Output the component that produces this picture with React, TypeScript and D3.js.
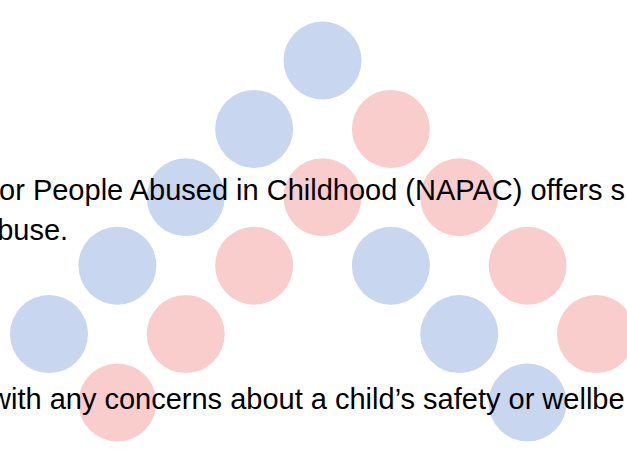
import React, { useEffect, useRef } from 'react';
import * as d3 from 'd3';

// grid cells of the dot triangle (row, column, colour)
const dotRows = [0, 1, 1, 2, 2, 2, 3, 3, 3, 3, 4, 4, 4, 4, 5, 5];
const dotCols = [4, 3, 5, 2, 4, 6, 1, 3, 5, 7, 0, 2, 6, 8, 1, 7];
const dotKinds = ['blue', 'blue', 'pink', 'blue', 'pink', 'pink', 'blue', 'pink', 'blue', 'pink', 'blue', 'pink', 'blue', 'pink', 'pink', 'blue'];

// text lines, cut off at both sides of the picture
const textLines = [
  'for People Abused in Childhood (NAPAC) offers s',
  'abuse.',
  'with any concerns about a child\u2019s safety or wellbe',
];
const textOffsets = [-9, -19, -10];
const textBaselines = [200, 240, 409];

const WIDTH = 627;
const HEIGHT = 450;

export default function App() {
  const svgRef = useRef<SVGSVGElement>(null);

  useEffect(() => {
    if (!svgRef.current) return;

    const svg = d3.select(svgRef.current);
    svg.selectAll('*').remove();

    svg.append('rect')
      .attr('width', WIDTH)
      .attr('height', HEIGHT)
      .attr('fill', '#ffffff');

    const x = d3.scaleLinear().domain([0, 8]).range([49, 596]);
    const y = d3.scaleLinear().domain([0, 5]).range([60.5, 402.5]);
    const colour = d3.scaleOrdinal<string, string>()
      .domain(['blue', 'pink'])
      .range(['#c8d6f0', '#facdcd']);

    const dots = dotRows.map((r, i) => ({ r, c: dotCols[i], kind: dotKinds[i] }));

    svg.append('g')
      .selectAll('circle')
      .data(dots)
      .join('circle')
      .attr('cx', d => x(d.c))
      .attr('cy', d => y(d.r))
      .attr('r', 39)
      .attr('fill', d => colour(d.kind));

    svg.append('g')
      .selectAll('text')
      .data(textLines)
      .join('text')
      .attr('x', (_, i) => textOffsets[i])
      .attr('y', (_, i) => textBaselines[i])
      .attr('font-family', '"Liberation Sans", Arial, sans-serif')
      .attr('font-size', 29)
      .attr('fill', '#000000')
      .text(d => d);
  }, []);

  return (
    <svg
      ref={svgRef}
      width={WIDTH}
      height={HEIGHT}
      style={{ position: 'absolute', left: 0, top: 0, display: 'block' }}
    />
  );
}
